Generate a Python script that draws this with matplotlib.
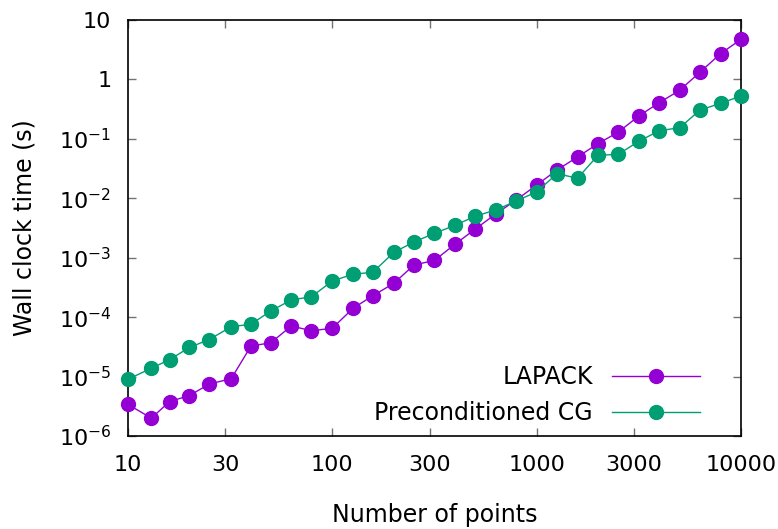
import matplotlib
matplotlib.use('Agg')
import matplotlib.pyplot as plt
from matplotlib.ticker import FixedLocator, FixedFormatter, NullLocator

# number of points (x) and wall clock times (s)
n_points = [10, 13, 16, 20, 25, 32, 40, 50, 63, 79, 100, 126, 158, 200, 251, 316,
            398, 501, 631, 794, 1000, 1259, 1585, 1995, 2512, 3162, 3981, 5012,
            6310, 7943, 10000]
lapack = [3.4e-6, 2.0e-6, 3.8e-6, 4.8e-6, 7.5e-6, 9.2e-6, 3.27e-5, 3.7e-5, 7.1e-5,
          5.9e-5, 6.5e-5, 1.4e-4, 2.3e-4, 3.7e-4, 7.55e-4, 9.0e-4, 1.68e-3, 3.04e-3,
          5.45e-3, 9.36e-3, 1.67e-2, 3.0e-2, 4.95e-2, 8.3e-2, 0.130, 0.243, 0.406,
          0.656, 1.33, 2.71, 4.73]
pcg = [9.0e-6, 1.38e-5, 1.93e-5, 3.1e-5, 4.2e-5, 6.9e-5, 7.6e-5, 1.27e-4, 1.95e-4,
       2.2e-4, 4.06e-4, 5.26e-4, 5.7e-4, 1.23e-3, 1.84e-3, 2.57e-3, 3.5e-3, 5.0e-3,
       6.35e-3, 9.0e-3, 1.28e-2, 2.6e-2, 2.17e-2, 5.28e-2, 5.5e-2, 9.1e-2, 0.137,
       0.154, 0.306, 0.396, 0.526]

x_ticks = [10, 30, 100, 300, 1000, 3000, 10000]
x_labels = ['10', '30', '100', '300', '1000', '3000', '10000']
y_ticks = [1e-6, 1e-5, 1e-4, 1e-3, 1e-2, 1e-1, 1, 10]
y_labels = ['$10^{-6}$', '$10^{-5}$', '$10^{-4}$', '$10^{-3}$',
            '$10^{-2}$', '$10^{-1}$', '1', '10']

plt.rcParams['font.family'] = ['DejaVu Sans']
plt.rcParams['mathtext.fontset'] = 'dejavusans'

fig = plt.figure(figsize=(7.78, 5.29), dpi=100)
ax = fig.add_axes([0.1645, 0.1758, 0.7879, 0.7864])

ax.plot(n_points, lapack, '-o', color='#9400D3', lw=1, ms=10,
        label='LAPACK', clip_on=False, zorder=3)
ax.plot(n_points, pcg, '-o', color='#009E73', lw=1, ms=10,
        label='Preconditioned CG', clip_on=False, zorder=3)

ax.set_xscale('log')
ax.set_yscale('log')
ax.set_xlim(10, 10000)
ax.set_ylim(1e-6, 10)

ax.xaxis.set_major_locator(FixedLocator(x_ticks))
ax.xaxis.set_major_formatter(FixedFormatter(x_labels))
ax.xaxis.set_minor_locator(NullLocator())
ax.yaxis.set_major_locator(FixedLocator(y_ticks))
ax.yaxis.set_major_formatter(FixedFormatter(y_labels))
ax.yaxis.set_minor_locator(NullLocator())

ax.tick_params(which='major', direction='in', top=True, right=True,
               length=6, width=1, color='0.45', labelsize=16)
ax.tick_params(axis='x', pad=14)
ax.tick_params(axis='y', pad=12)
for sp in ax.spines.values():
    sp.set_linewidth(1.2)

ax.set_xlabel('Number of points', fontsize=17, labelpad=20)
ax.set_ylabel('Wall clock time (s)', fontsize=17, labelpad=16)

ax.legend(loc='lower right', markerfirst=False, frameon=False, handlelength=3.75,
          fontsize=17, bbox_to_anchor=(0.968, -0.025), labelspacing=0.5,
          handletextpad=0.8)

fig.savefig('out.png', dpi=100)
